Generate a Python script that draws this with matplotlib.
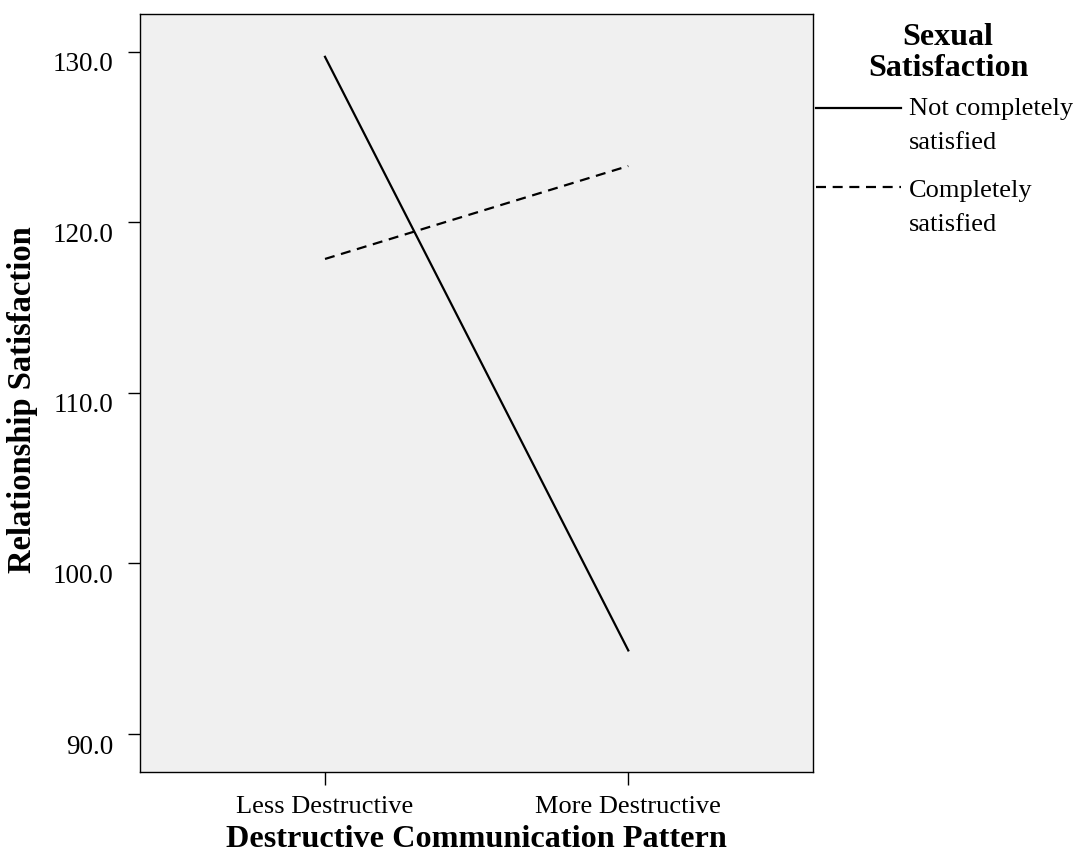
import matplotlib
matplotlib.use("Agg")
import matplotlib.pyplot as plt
from matplotlib.lines import Line2D
from matplotlib.transforms import ScaledTranslation

categories = ["Less Destructive", "More Destructive"]
not_completely = [129.7, 94.9]
completely = [117.85, 123.3]
yticks = [90.0, 100.0, 110.0, 120.0, 130.0]
series_names = ["Not completely\nsatisfied", "Completely\nsatisfied"]

plt.rcParams['font.family'] = ['Liberation Serif', 'DejaVu Serif']

W, H = 1082, 857
fig = plt.figure(figsize=(W/100, H/100), dpi=100)
ax = fig.add_axes([140/W, 1-772.3/H, (813.3-140)/W, (772.3-13.5)/H])
ax.set_facecolor('#F0F0F0')

dash = (0, (4.5, 3))
x = list(range(len(categories)))
ax.plot(x, not_completely, color='black', lw=1.6, linestyle='-')
ax.plot(x, completely, color='black', lw=1.6, linestyle=dash)

ax.set_xlim(-0.61, 1.61)
ax.set_ylim(87.755, 132.24)
ax.set_xticks(x)
ax.set_xticklabels(categories, fontsize=19)
ax.set_yticks(yticks)
ax.set_yticklabels([f"{v:.1f}" for v in yticks], fontsize=19.5)
ax.tick_params(axis='both', direction='out', length=9, width=1, color='black')
ax.tick_params(axis='x', pad=8)
ax.tick_params(axis='y', pad=10)
shift = ScaledTranslation(0, -10/100, fig.dpi_scale_trans)
for lab in ax.get_yticklabels():
    lab.set_transform(lab.get_transform() + shift)
for s in ax.spines.values():
    s.set_linewidth(1)
    s.set_color('black')

ax.set_xlabel("Destructive Communication Pattern", fontsize=23.2, fontweight='bold', labelpad=5)
ax.set_ylabel("Relationship Satisfaction", fontsize=23.5, fontweight='bold')
ax.yaxis.set_label_coords(-0.152, 0.4906)

# legend (manual)
fig.text(948/W, 1-53/H, "Sexual\nSatisfaction", ha='center', va='center',
         fontsize=23, fontweight='bold', linespacing=1.13)
styles = ['-', dash]
line_ys = [107.5, 186.5]
baselines = [(115, 149), (197, 231)]
for name, st, ly, bls in zip(series_names, styles, line_ys, baselines):
    fig.add_artist(Line2D([816/W, 901/W], [1-ly/H, 1-ly/H], color='black', lw=1.6,
                          linestyle=st, transform=fig.transFigure))
    for part, bl in zip(name.split("\n"), bls):
        fig.text(909/W, 1-bl/H, part, ha='left', va='baseline', fontsize=19)

fig.savefig("out.png", dpi=100, facecolor='white')
